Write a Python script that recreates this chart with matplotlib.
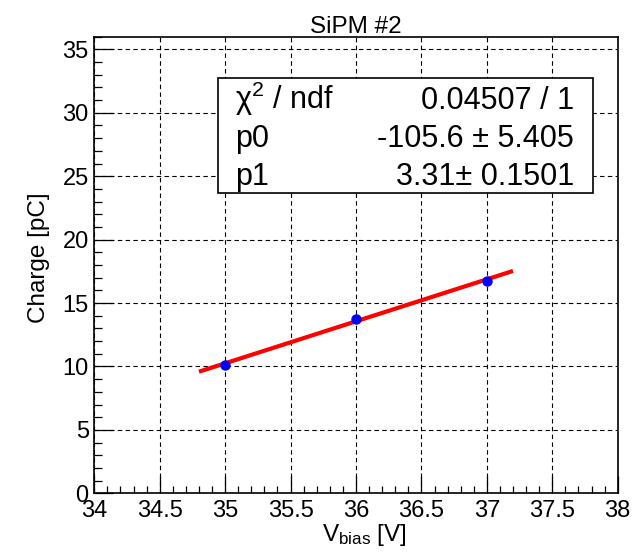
import matplotlib
matplotlib.use("Agg")
import matplotlib.pyplot as plt
import numpy as np
from matplotlib.ticker import MultipleLocator
from matplotlib.patches import Rectangle

plt.rcParams['font.family'] = ['Liberation Sans', 'DejaVu Sans']
plt.rcParams['mathtext.fontset'] = 'custom'
plt.rcParams['mathtext.rm'] = 'Liberation Sans'
plt.rcParams['mathtext.it'] = 'Liberation Sans:italic'
plt.rcParams['mathtext.default'] = 'regular'

# Data
v_bias = [35.0, 36.0, 37.0]
charge = [10.1, 13.75, 16.75]
fit_p0 = -105.6
fit_p1 = 3.31
fit_range = [34.8, 37.2]
title = "SiPM #2"
stats_labels = [r"$\chi^{2}$ / ndf", "p0", "p1"]
stats_values = ["0.04507 / 1", "-105.6 \u00b1 5.405", "3.31\u00b1 0.1501"]

W, H = 638, 554
fig = plt.figure(figsize=(W / 100, H / 100), dpi=100)
ax = fig.add_axes([94.3 / W, 1 - 493.3 / H, (617.7 - 94.3) / W, (493.3 - 36.7) / H])

ax.set_xlim(34, 38)
ax.set_ylim(0, 36)

xf = np.linspace(fit_range[0], fit_range[1], 50)
ax.plot(xf, fit_p0 + fit_p1 * xf, color='#ff0000', lw=3.0, zorder=3,
        solid_capstyle='butt')
ax.plot(v_bias, charge, 'o', color='#0000ff', ms=6.5, zorder=4)

ax.xaxis.set_major_locator(MultipleLocator(0.5))
ax.xaxis.set_minor_locator(MultipleLocator(0.1))
ax.yaxis.set_major_locator(MultipleLocator(5))
ax.yaxis.set_minor_locator(MultipleLocator(1))
ax.xaxis.set_major_formatter(matplotlib.ticker.FuncFormatter(lambda v, p: f"{v:g}"))
ax.yaxis.set_major_formatter(matplotlib.ticker.FuncFormatter(lambda v, p: f"{v:g}"))

ax.tick_params(axis='both', which='both', direction='in', top=False, right=False,
               labelsize=17, width=0.9, color='black')
ax.tick_params(axis='y', which='major', length=13.5, pad=4)
ax.tick_params(axis='y', which='minor', length=6)
ax.tick_params(axis='x', which='major', length=12, pad=5)
ax.tick_params(axis='x', which='minor', length=5)

ax.grid(True, which='major', color='black', lw=0.8, linestyle=(0, (4, 3)))
ax.set_axisbelow(True)
for s in ax.spines.values():
    s.set_linewidth(1.2)
    s.set_color('black')

# Stats box
bx0, bx1, by0, by1 = 217.7, 592.7, 78.3, 193.3
rect = Rectangle((bx0 / W, 1 - by1 / H), (bx1 - bx0) / W, (by1 - by0) / H,
                 transform=fig.transFigure, facecolor='white', edgecolor='black',
                 lw=1.2, zorder=5)
fig.patches.append(rect)
baselines = [109.3, 147.3, 185.0]
for lab, val, yb in zip(stats_labels, stats_values, baselines):
    fig.text(235 / W, 1 - yb / H, lab, fontsize=22, ha='left', va='baseline', zorder=6)
    fig.text(574 / W, 1 - yb / H, val, fontsize=22, ha='right', va='baseline', zorder=6)

fig.text(356 / W, 1 - 27 / H, title, fontsize=17.5, ha='center', va='center')
fig.text(364 / W, 1 - 541.5 / H, r"V$_{bias}$ [V]", fontsize=17.5, ha='center', va='baseline')
fig.text(39 / W, 1 - 258 / H, "Charge [pC]", fontsize=17.5, ha='center', va='center', rotation=90)

fig.savefig("out.png", dpi=100)
